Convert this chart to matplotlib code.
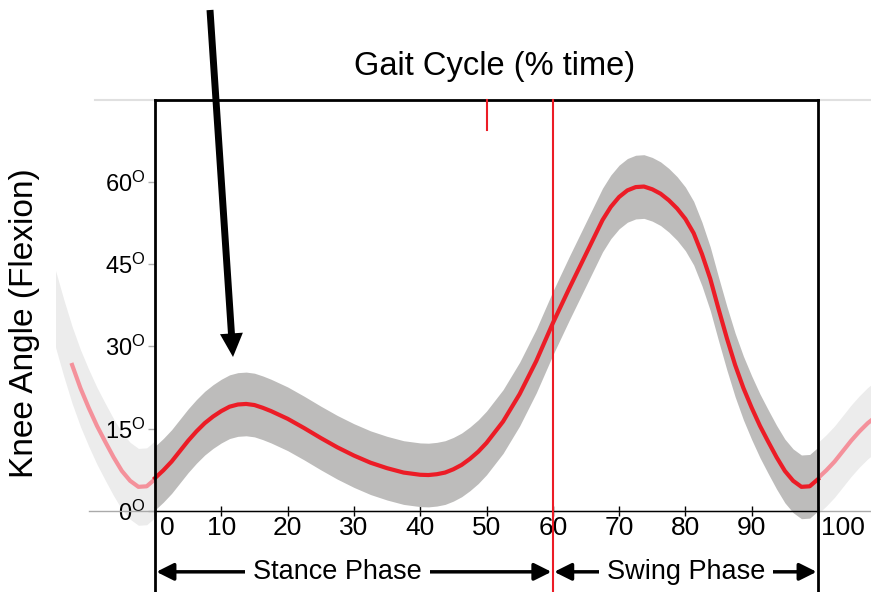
import numpy as np
import matplotlib.pyplot as plt
from matplotlib.transforms import ScaledTranslation

plt.rcParams['font.family'] = ['Liberation Sans', 'DejaVu Sans']
plt.rcParams['mathtext.fontset'] = 'custom'
plt.rcParams['mathtext.rm'] = 'Liberation Sans'

# gait cycle (% time) and mean knee flexion (deg)
gait_pct = [0, 1.25, 2.5, 3.75, 5, 6.25, 7.5, 8.75, 10, 11.25, 12.5, 13.75, 15, 16.25, 17.5,
            20, 22.5, 25, 27.5, 30, 32.5, 35, 37.5, 40, 41.25, 42.5, 43.75, 45, 46.25, 47.5,
            48.75, 50, 52.5, 55, 57.5, 60, 62.5, 65, 67.5, 68.75, 70, 71.25, 72.5, 73.75,
            75, 76.25, 77.5, 78.75, 80, 81.25, 82.5, 83.75, 85, 86.25, 87.5, 88.75, 90,
            91.25, 92.5, 93.75, 95, 96.25, 97.5, 98.75, 100]
knee_mean = [6.0, 7.4, 9.0, 10.9, 12.8, 14.5, 16.0, 17.2, 18.2, 19.0, 19.4, 19.5, 19.3, 18.8, 18.2,
             16.8, 15.1, 13.3, 11.6, 10.1, 8.8, 7.8, 7.0, 6.6, 6.55, 6.7, 7.0, 7.6, 8.4, 9.5,
             10.8, 12.4, 16.3, 21.3, 27.3, 34.2, 40.6, 46.8, 53.0, 55.4, 57.2, 58.4, 59.0, 59.1,
             58.6, 57.8, 56.6, 55.1, 53.2, 50.6, 46.8, 42.3, 36.8, 31.5, 26.6, 22.4, 18.8,
             15.5, 12.6, 9.8, 7.3, 5.5, 4.4, 4.5, 5.8]
knee_sd = 5.8

yticks = [0, 15, 30, 45, 60]
xticks = [0, 10, 20, 30, 40, 50, 60, 70, 80, 90, 100]
toe_off = 60

x = np.array(gait_pct, dtype=float)
m = np.array(knee_mean)

red = '#ec1c26'
fig = plt.figure(figsize=(8.71, 5.92), dpi=100)
ax = fig.add_axes([155/871, 81/592, 663/871, 411/592])
ax.set_xlim(0, 100)
ax.set_ylim(0, 411/5.49)

# faded neighbouring cycles (same data shifted by one cycle)
prev = x >= 85
ax.fill_between(x[prev] - 100, m[prev] - 7, m[prev] + 7, color='#ececec', lw=0, clip_on=False, zorder=1)
nxt = x <= 12.5
ax.fill_between(x[nxt] + 100, m[nxt] - 6.5, m[nxt] + 6.5, color='#ececec', lw=0, clip_on=False, zorder=1)
p2 = x >= 87.5
ax.plot(x[p2] - 100, m[p2], color='#f4919b', lw=3, clip_on=False, zorder=2)
ax.plot(x[nxt] + 100, m[nxt], color='#f4919b', lw=3, clip_on=False, zorder=2)

# main cycle
ax.fill_between(x, m - knee_sd, m + knee_sd, color='#bdbcbb', lw=0, clip_on=False, zorder=3)
ax.plot(x, m, color=red, lw=3, clip_on=False, zorder=4, solid_joinstyle='round')

# box / axis lines
for s in ['left', 'right']:
    ax.spines[s].set_visible(False)
ax.spines['top'].set_linewidth(2)
ax.spines['bottom'].set_linewidth(1)
ax.spines['bottom'].set_zorder(6)
ax.plot([-0.10, 1.08], [0, 0], transform=ax.transAxes, color='#aaaaaa', lw=1, clip_on=False, zorder=5)
ax.plot([-0.09, 0], [1, 1], transform=ax.transAxes, color='#e0e0e0', lw=1.5, clip_on=False)
ax.plot([1, 1.08], [1, 1], transform=ax.transAxes, color='#e0e0e0', lw=1.5, clip_on=False)
for xa in [0, 1]:
    ax.plot([xa, xa], [1, -0.2], transform=ax.transAxes, color='black', lw=2, clip_on=False, zorder=7)

# toe-off line and mid-stance marker
ax.plot([toe_off, toe_off], [1, -0.2], transform=ax.get_xaxis_transform(), color=red, lw=1.5, clip_on=False, zorder=8)
ax.plot([50, 50], [1, 0.927], transform=ax.get_xaxis_transform(), color=red, lw=1.5, clip_on=False, zorder=8)

# ticks
ax.set_xticks(xticks)
ax.set_xticklabels([str(t) for t in xticks])
ax.tick_params(axis='x', direction='inout', length=7, width=1, color='black', labelsize=19, pad=0)
labs = ax.get_xticklabels()
labs[0].set_transform(labs[0].get_transform() + ScaledTranslation(0.12, 0, fig.dpi_scale_trans))
labs[-1].set_transform(labs[-1].get_transform() + ScaledTranslation(0.25, 0, fig.dpi_scale_trans))

ax.set_yticks(yticks)
ax.set_yticklabels([r'$\mathregular{%d^O}$' % t for t in yticks])
ax.tick_params(axis='y', direction='out', length=5, width=1, color='#b0b0b0', labelsize=17, pad=2)

# phase arrows
yarr = -0.148
for x0, x1, xt, lab in [(0, toe_off, 27.5, 'Stance Phase'), (toe_off, 100, 80.1, 'Swing Phase')]:
    ax.annotate('', xy=(x0, yarr), xytext=(x1, yarr), xycoords=('data', 'axes fraction'),
                arrowprops=dict(arrowstyle='<|-|>', lw=2.5, color='black', mutation_scale=26,
                                shrinkA=1, shrinkB=1), zorder=9)
    ax.text(xt, yarr, lab, transform=ax.get_xaxis_transform(), ha='center', va='center',
            fontsize=19.5, zorder=10,
            bbox=dict(boxstyle='square,pad=0.3', fc='white', ec='none'))

# pointer arrow
ax.annotate('', xy=(233, 235), xytext=(210, 582), xycoords='figure pixels',
            arrowprops=dict(facecolor='black', edgecolor='none', width=5, headwidth=16.5,
                            headlength=17, shrink=0), zorder=11)

fig.text(0.568, 0.888, 'Gait Cycle (% time)', ha='center', va='center', fontsize=23.5)
fig.text(25/871, 0.454, 'Knee Angle (Flexion)', rotation=90, ha='center', va='center', fontsize=24)

fig.savefig('out.png', dpi=100)
